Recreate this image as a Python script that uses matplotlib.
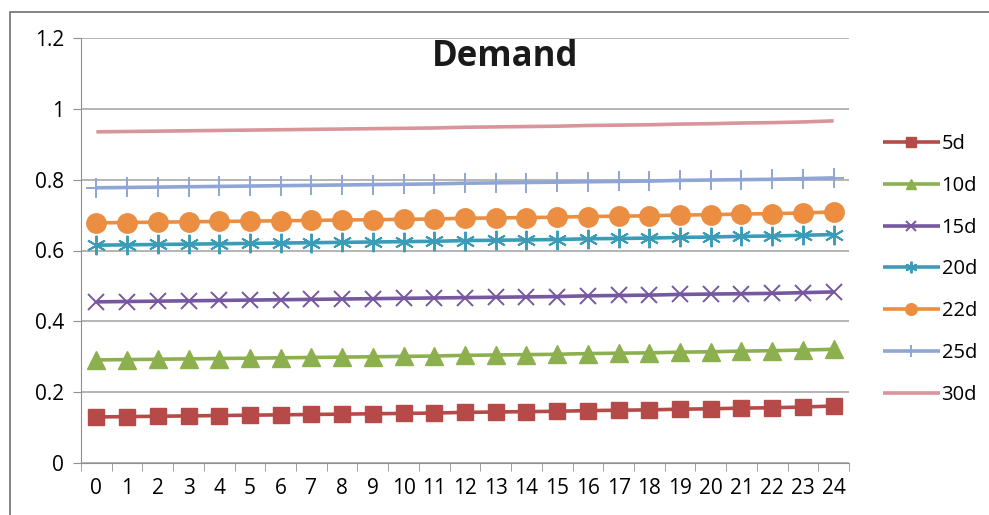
import matplotlib.pyplot as plt
from matplotlib.patches import Rectangle

plt.rcParams['font.family'] = ['Open Sans', 'DejaVu Sans']

hours = list(range(25))
d5 = [0.130, 0.131, 0.132, 0.133, 0.134, 0.135, 0.136, 0.137, 0.138, 0.139, 0.140, 0.141, 0.143,
      0.144, 0.145, 0.146, 0.148, 0.149, 0.150, 0.152, 0.153, 0.155, 0.156, 0.158, 0.161]
d10 = [0.291, 0.292, 0.293, 0.294, 0.295, 0.296, 0.297, 0.298, 0.299, 0.300, 0.301, 0.302, 0.304,
       0.305, 0.306, 0.307, 0.309, 0.310, 0.311, 0.313, 0.314, 0.316, 0.317, 0.319, 0.321]
d15 = [0.455, 0.456, 0.457, 0.458, 0.459, 0.460, 0.461, 0.462, 0.463, 0.464, 0.465, 0.466, 0.467,
       0.468, 0.469, 0.470, 0.472, 0.473, 0.474, 0.476, 0.477, 0.478, 0.479, 0.481, 0.483]
d20 = [0.615, 0.616, 0.617, 0.618, 0.619, 0.620, 0.621, 0.622, 0.623, 0.624, 0.625, 0.626, 0.628,
       0.629, 0.630, 0.631, 0.633, 0.634, 0.635, 0.637, 0.638, 0.640, 0.641, 0.643, 0.645]
d22 = [0.678, 0.679, 0.680, 0.681, 0.682, 0.683, 0.684, 0.685, 0.686, 0.687, 0.688, 0.689, 0.691,
       0.692, 0.693, 0.694, 0.696, 0.697, 0.698, 0.700, 0.701, 0.703, 0.704, 0.706, 0.709]
d25 = [0.777, 0.778, 0.779, 0.780, 0.781, 0.782, 0.783, 0.784, 0.785, 0.786, 0.787, 0.788, 0.790,
       0.791, 0.792, 0.793, 0.794, 0.795, 0.796, 0.798, 0.799, 0.800, 0.801, 0.803, 0.805]
d30 = [0.935, 0.936, 0.937, 0.938, 0.939, 0.940, 0.941, 0.942, 0.943, 0.944, 0.945, 0.946, 0.948,
       0.949, 0.950, 0.951, 0.953, 0.954, 0.955, 0.957, 0.958, 0.960, 0.961, 0.963, 0.966]

series = [
    ("5d", d5, "#B54A48", "s", 12, 1),
    ("10d", d10, "#8DB04F", "^", 13, 1),
    ("15d", d15, "#7558A0", "x", 12, 1.4),
    ("20d", d20, "#3A9CB6", (6, 2, 0), 14, 1.4),
    ("22d", d22, "#EB8E42", "o", 14, 1),
    ("25d", d25, "#8EA6D6", "+", 15, 1.4),
    ("30d", d30, "#D9959A", None, 0, 1),
]

fig = plt.figure(figsize=(9.89, 5.15), dpi=100)
ax = fig.add_axes([81 / 989, 1 - 463 / 515, 768 / 989, 425 / 515])

for name, vals, col, mk, ms, mew in series:
    ax.plot(hours, vals, color=col, lw=2.6, marker=mk, ms=ms, mew=mew,
            mec=col, mfc=col, label=name, solid_capstyle='butt')

ax.set_xlim(-0.5, 24.5)
ax.set_ylim(0, 1.2)
ax.set_yticks([0, 0.2, 0.4, 0.6, 0.8, 1, 1.2])
ax.set_yticklabels(["0", "0.2", "0.4", "0.6", "0.8", "1", "1.2"])
ax.set_xticks(hours)
ax.set_xticks([i - 0.5 for i in range(26)], minor=True)
ax.tick_params(axis='x', which='major', length=0, labelsize=15, pad=11)
ax.tick_params(axis='x', which='minor', length=6, color='#909090', direction='out')
ax.tick_params(axis='y', length=6, color='#909090', labelsize=15, pad=6)
ax.grid(axis='y', color='#a8a8a8', lw=1.2)
ax.set_axisbelow(True)
for s in ['top', 'right']:
    ax.spines[s].set_visible(False)
ax.spines['left'].set_color('#909090')
ax.spines['bottom'].set_color('#909090')

fig.text(505 / 989, 1 - 57 / 515, "Demand", ha='center', va='center',
         fontsize=25, fontweight='bold', color='#1a1a1a')

fig.legend(loc='upper left', bbox_to_anchor=(865 / 989, 1 - 116 / 515), frameon=False,
           fontsize=14.5, handlelength=2.8, handletextpad=0.1, labelspacing=1.08,
           markerscale=0.6)

fig.add_artist(Rectangle((10 / 989, -0.01), 1.0, 1 - 12 / 515 + 0.01, transform=fig.transFigure,
                         fill=False, ec='#707070', lw=1.2))

fig.savefig("out.png", dpi=100)
